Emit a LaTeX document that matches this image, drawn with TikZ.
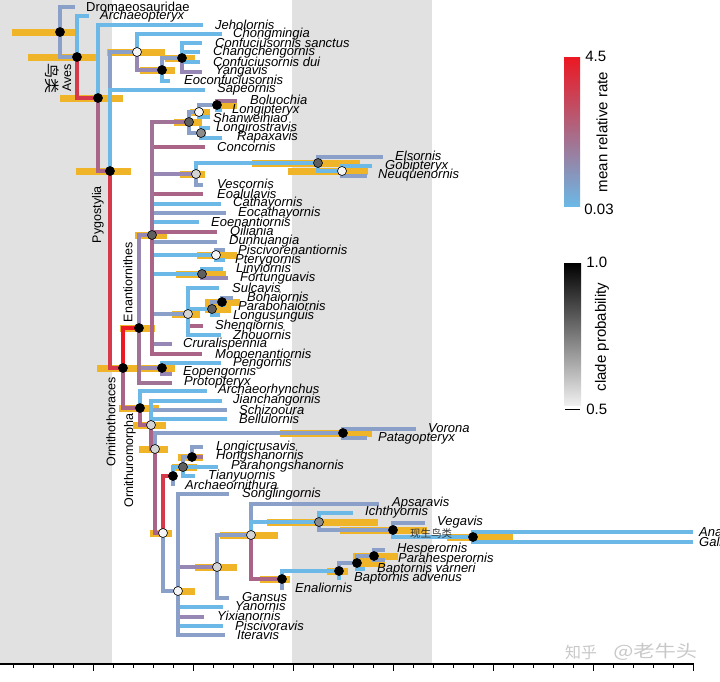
\documentclass[tikz,border=0pt]{standalone}
\usepackage{fontspec}
\setmainfont{Liberation Sans}
\newfontfamily\cjkFont{Noto Sans CJK SC}
\usepackage{tikz}
\usetikzlibrary{positioning}
\pgfdeclarelayer{bands}
\pgfdeclarelayer{bars}
\pgfdeclarelayer{branches}
\pgfsetlayers{bands,bars,branches,main}
\definecolor{bandColor}{RGB}{225,225,225}
\definecolor{barColor}{RGB}{240,180,40}
\definecolor{rateLow}{RGB}{108,184,230}
\definecolor{rateSlate}{RGB}{138,160,200}
\definecolor{ratePurple}{RGB}{150,135,180}
\definecolor{ratePlum}{RGB}{160,115,150}
\definecolor{rateMauve}{RGB}{170,100,135}
\definecolor{rateRed}{RGB}{214,58,74}
\definecolor{rateHot}{RGB}{236,24,34}
\definecolor{dotDark}{RGB}{95,95,95}
\definecolor{dotMid}{RGB}{140,140,140}
\definecolor{dotLight}{RGB}{212,212,212}
\definecolor{dotPale}{RGB}{245,245,245}
\definecolor{markGray}{RGB}{200,200,200}
\tikzstyle{branchLine} = [line width=4.5pt]
\tikzstyle{ageBarStyle} = [color=barColor, line width=7pt]
\tikzstyle{cladeDot} = [circle, draw=black, line width=.6pt, minimum size=9pt, inner sep=0pt]
\tikzstyle{taxonText} = [anchor=west, inner sep=0pt, font=\fontsize{13}{13}\selectfont\itshape]
\tikzstyle{cladeText} = [rotate=90, anchor=east, inner sep=0pt, font=\fontsize{12.5}{12.5}\selectfont]
\tikzstyle{legendText} = [inner sep=0pt, font=\fontsize{15}{15}\selectfont]
\tikzstyle{axisLine} = [line width=1.5pt]
\tikzstyle{axisTick} = [line width=1pt]
\newcommand{\cladeNode}[6]{
  \coordinate (#1) at (#2,#3);
  \begin{pgfonlayer}{bars}\draw[ageBarStyle] (#4,#3) -- (#5,#3);\end{pgfonlayer}
  \node[cladeDot, fill=#6] (#1Dot) at (#1) {};
}
\newcommand{\tipTaxon}[6]{
  \coordinate (#1) at (#2,#3);
  \node[taxonText] (#1Name) at (#4,#5) {#6};
}
\newcommand{\branch}[3]{\begin{pgfonlayer}{branches}\draw[branchLine, color=#3] (#1) |- (#2);\end{pgfonlayer}}

\begin{document}
\begin{tikzpicture}[x=1pt, y=-1pt]
  \useasboundingbox (0,0) rectangle (720,681);
  \begin{pgfonlayer}{bands}
    \fill[bandColor] (0,0) rectangle (112,664);
    \fill[bandColor] (292,0) rectangle (432,664);
    \draw[axisLine] (0,664) -- (694,664);
    \foreach \tick in {0,...,34} {\draw[axisTick] (693-\tick*20,664) -- ++(0,4);}
    \foreach \tick in {0,...,6} {\draw[axisTick] (693-\tick*100,664) -- ++(0,7);}
  \end{pgfonlayer}

  % clade nodes: name, x, y, age bar, clade probability
  \cladeNode{root}{60}{32}{12}{75}{black}
  \cladeNode{aves}{77}{57}{28}{100}{black}
  \cladeNode{jeholSplit}{98}{98}{60}{123}{black}
  \cladeNode{pygostylia}{110}{171}{76}{131}{black}
  \cladeNode{confNode}{137}{52}{107}{165}{dotPale}
  \cladeNode{confF}{162}{70}{140}{175}{black}
  \cladeNode{confG}{182}{58}{165}{195}{black}
  \cladeNode{ornithothoraces}{123}{368}{97}{175}{black}
  \cladeNode{enantiornithes}{139}{328}{120}{155}{black}
  \cladeNode{enantCore}{152}{235}{135}{167}{dotDark}
  \cladeNode{longiA}{189}{122}{174}{202}{dotDark}
  \cladeNode{longiB}{199}{112}{190}{210}{dotPale}
  \cladeNode{longiC}{217}{105}{213}{237}{black}
  \cladeNode{longiD}{201}{133}{197}{206}{dotMid}
  \cladeNode{gobiStem}{196}{174}{180}{205}{dotLight}
  \cladeNode{gobiA}{318}{163}{252}{360}{dotDark}
  \cladeNode{gobiB}{342}{171}{288}{368}{dotPale}
  \cladeNode{piscNode}{216}{255}{197}{237}{dotPale}
  \cladeNode{linyNode}{202}{274}{176}{226}{dotDark}
  \cladeNode{bohaiA}{188}{314}{172}{200}{dotLight}
  \cladeNode{bohaiB}{212}{309}{205}{231}{dotDark}
  \cladeNode{bohaiC}{222}{302}{205}{240}{black}
  \cladeNode{pengNode}{162}{368}{140}{175}{black}
  \cladeNode{ornithuromorpha}{140}{408}{119}{159}{black}
  \cladeNode{ornM2}{151}{425}{133}{166}{dotLight}
  \cladeNode{ornM3}{155}{449}{139}{168}{dotLight}
  \cladeNode{voronaNode}{343}{433}{280}{372}{black}
  \cladeNode{ornM4}{163}{533}{150}{172}{dotPale}
  \cladeNode{hongA}{173}{476}{173}{173}{black}
  \cladeNode{hongB}{183}{467}{172}{197}{dotDark}
  \cladeNode{hongC}{192}{457}{178}{203}{black}
  \cladeNode{songNode}{178}{591}{178}{195}{dotPale}
  \cladeNode{gansNode}{217}{567}{195}{237}{dotLight}
  \cladeNode{ornithurae}{251}{535}{220}{278}{dotLight}
  \cladeNode{ichthNode}{319}{522}{267}{378}{dotMid}
  \cladeNode{vegaNode}{393}{530}{340}{427}{black}
  \cladeNode{neornithes}{473}{537}{447}{513}{black}
  \cladeNode{hespA}{282}{579}{260}{290}{black}
  \cladeNode{hespB}{339}{571}{327}{348}{black}
  \cladeNode{hespC}{357}{563}{353}{385}{black}
  \cladeNode{hespD}{374}{556}{353}{398}{black}

  % tips: name, tip, label position, text
  \tipTaxon{dromaeo}{75}{7}{86}{7}{\upshape Dromaeosauridae}
  \tipTaxon{archaeopteryx}{89}{16}{100}{16}{Archaeopteryx}
  \tipTaxon{jeholornis}{203}{25}{215}{25}{Jeholornis}
  \tipTaxon{chongmingia}{222}{34}{233}{34}{Chongmingia}
  \tipTaxon{sanctus}{202}{43}{215}{43}{Confuciusornis sanctus}
  \tipTaxon{changcheng}{200}{52}{213}{52}{Changchengornis}
  \tipTaxon{dui}{200}{62}{213}{62}{Confuciusornis dui}
  \tipTaxon{yangavis}{202}{72}{215}{71}{Yangavis}
  \tipTaxon{eoconf}{170}{81}{184}{80}{Eoconfuciusornis}
  \tipTaxon{sapeornis}{205}{90}{217}{89}{Sapeornis}
  \tipTaxon{boluochia}{237}{101}{250}{100}{Boluochia}
  \tipTaxon{longipteryx}{222}{110}{232}{110}{Longipteryx}
  \tipTaxon{shanweiniao}{210}{117}{213}{118}{Shanweiniao}
  \tipTaxon{longirostravis}{210}{128}{216}{128}{Longirostravis}
  \tipTaxon{rapaxavis}{222}{138}{237}{137}{Rapaxavis}
  \tipTaxon{concornis}{205}{147}{217}{147}{Concornis}
  \tipTaxon{elsornis}{383}{157}{395}{156}{Elsornis}
  \tipTaxon{gobipteryx}{372}{166}{385}{166}{Gobipteryx}
  \tipTaxon{neuquenornis}{367}{176}{378}{175}{Neuquenornis}
  \tipTaxon{vescornis}{203}{185}{217}{184}{Vescornis}
  \tipTaxon{eoalulavis}{203}{194}{217}{194}{Eoalulavis}
  \tipTaxon{cathayornis}{221}{204}{233}{203}{Cathayornis}
  \tipTaxon{eocathayornis}{226}{213}{238}{213}{Eocathayornis}
  \tipTaxon{eoenantiornis}{199}{222}{211}{222}{Eoenantiornis}
  \tipTaxon{qiliania}{217}{232}{230}{232}{Qiliania}
  \tipTaxon{dunhuangia}{217}{242}{229}{241}{Dunhuangia}
  \tipTaxon{piscivorenantiornis}{225}{250}{238}{250}{Piscivorenantiornis}
  \tipTaxon{pterygornis}{225}{260}{235}{260}{Pterygornis}
  \tipTaxon{linyiornis}{223}{269}{236}{269}{Linyiornis}
  \tipTaxon{fortunguavis}{228}{278}{240}{278}{Fortunguavis}
  \tipTaxon{sulcavis}{219}{288}{232}{288}{Sulcavis}
  \tipTaxon{bohaiornis}{233}{298}{247}{297}{Bohaiornis}
  \tipTaxon{parabohaiornis}{225}{305}{238}{306}{Parabohaiornis}
  \tipTaxon{longusunguis}{220}{315}{233}{316}{Longusunguis}
  \tipTaxon{shenqiornis}{203}{326}{215}{326}{Shenqiornis}
  \tipTaxon{zhouornis}{221}{335}{233}{335}{Zhouornis}
  \tipTaxon{cruralispennia}{172}{344}{183}{344}{Cruralispennia}
  \tipTaxon{monoenantiornis}{202}{354}{215}{354}{Monoenantiornis}
  \tipTaxon{pengornis}{221}{363}{233}{363}{Pengornis}
  \tipTaxon{eopengornis}{172}{374}{183}{372}{Eopengornis}
  \tipTaxon{protopteryx}{172}{383}{184}{382}{Protopteryx}
  \tipTaxon{archaeorhynchus}{207}{391}{218}{390}{Archaeorhynchus}
  \tipTaxon{jianchangornis}{222}{401}{233}{400}{Jianchangornis}
  \tipTaxon{schizooura}{227}{410}{239}{410}{Schizooura}
  \tipTaxon{bellulornis}{227}{419}{239}{419}{Bellulornis}
  \tipTaxon{vorona}{416}{429}{428}{428}{Vorona}
  \tipTaxon{patagopteryx}{367}{438}{378}{438}{Patagopteryx}
  \tipTaxon{longicrusavis}{203}{447}{216}{447}{Longicrusavis}
  \tipTaxon{hongshanornis}{203}{457}{216}{456}{Hongshanornis}
  \tipTaxon{parahongshanornis}{218}{467}{231}{466}{Parahongshanornis}
  \tipTaxon{tianyuornis}{195}{476}{208}{476}{Tianyuornis}
  \tipTaxon{archaeornithura}{173}{486}{185}{485}{Archaeornithura}
  \tipTaxon{songlingornis}{229}{494}{242}{494}{Songlingornis}
  \tipTaxon{apsaravis}{379}{504}{392}{503}{Apsaravis}
  \tipTaxon{ichthyornis}{353}{513}{365}{512}{Ichthyornis}
  \tipTaxon{vegavis}{425}{523}{437}{522}{Vegavis}
  \tipTaxon{anas}{693}{532}{699}{532}{Anas}
  \tipTaxon{gallus}{693}{542}{699}{542}{Gallus}
  \tipTaxon{hesperornis}{385}{550}{397}{549}{Hesperornis}
  \tipTaxon{parahesperornis}{385}{560}{398}{559}{Parahesperornis}
  \tipTaxon{baptornisVarneri}{365}{569}{377}{569}{Baptornis varneri}
  \tipTaxon{baptornisAdvenus}{339}{580}{354}{578}{Baptornis advenus}
  \tipTaxon{enaliornis}{282}{590}{295}{588}{Enaliornis}
  \tipTaxon{gansus}{229}{598}{242}{597}{Gansus}
  \tipTaxon{yanornis}{223}{607}{235}{606}{Yanornis}
  \tipTaxon{yixianornis}{204}{617}{217}{616}{Yixianornis}
  \tipTaxon{piscivoravis}{223}{626}{235}{626}{Piscivoravis}
  \tipTaxon{iteravis}{225}{635}{237}{635}{Iteravis}

  % branches, coloured by rate
  \branch{root}{dromaeo}{rateSlate}
  \branch{root}{aves}{rateSlate}
  \branch{aves}{archaeopteryx}{rateLow}
  \branch{aves}{jeholSplit}{rateRed}
  \branch{jeholSplit}{jeholornis}{rateLow}
  \branch{jeholSplit}{pygostylia}{rateMauve}
  \branch{pygostylia}{confNode}{rateSlate}
  \branch{pygostylia}{sapeornis}{rateLow}
  \branch{pygostylia}{ornithothoraces}{rateRed}
  \branch{confNode}{chongmingia}{rateLow}
  \branch{confNode}{confF}{ratePurple}
  \branch{confF}{confG}{rateSlate}
  \branch{confF}{eoconf}{rateLow}
  \branch{confG}{sanctus}{rateLow}
  \branch{confG}{changcheng}{rateLow}
  \branch{confG}{dui}{rateLow}
  \branch{confG}{yangavis}{ratePurple}
  \branch{ornithothoraces}{enantiornithes}{rateHot}
  \branch{ornithothoraces}{ornithuromorpha}{rateMauve}
  % Enantiornithes
  \branch{enantiornithes}{enantCore}{ratePurple}
  \branch{enantiornithes}{pengNode}{ratePurple}
  \branch{enantiornithes}{protopteryx}{ratePlum}
  \branch{enantCore}{qiliania}{rateMauve}
  \branch{enantCore}{eoenantiornis}{rateLow}
  \branch{enantCore}{eocathayornis}{rateSlate}
  \branch{enantCore}{cathayornis}{rateLow}
  \branch{enantCore}{eoalulavis}{rateMauve}
  \branch{enantCore}{gobiStem}{ratePurple}
  \branch{enantCore}{concornis}{rateMauve}
  \branch{enantCore}{longiA}{ratePlum}
  \branch{enantCore}{dunhuangia}{rateSlate}
  \branch{enantCore}{piscNode}{rateLow}
  \branch{enantCore}{linyNode}{rateLow}
  \branch{enantCore}{bohaiA}{rateSlate}
  \branch{enantCore}{cruralispennia}{ratePurple}
  \branch{enantCore}{monoenantiornis}{rateMauve}
  \branch{longiA}{longiB}{rateSlate}
  \branch{longiA}{longiD}{rateSlate}
  \branch{longiB}{longiC}{rateSlate}
  \branch{longiB}{shanweiniao}{rateLow}
  \branch{longiC}{boluochia}{ratePlum}
  \branch{longiC}{longipteryx}{rateLow}
  \branch{longiD}{longirostravis}{rateLow}
  \branch{longiD}{rapaxavis}{rateLow}
  \branch{gobiStem}{gobiA}{rateLow}
  \branch{gobiStem}{vescornis}{rateSlate}
  \branch{gobiA}{elsornis}{rateSlate}
  \branch{gobiA}{gobiB}{rateLow}
  \branch{gobiB}{gobipteryx}{rateLow}
  \branch{gobiB}{neuquenornis}{rateSlate}
  \branch{piscNode}{piscivorenantiornis}{rateSlate}
  \branch{piscNode}{pterygornis}{rateLow}
  \branch{linyNode}{linyiornis}{rateLow}
  \branch{linyNode}{fortunguavis}{ratePurple}
  \branch{bohaiA}{sulcavis}{rateLow}
  \branch{bohaiA}{bohaiB}{rateLow}
  \branch{bohaiA}{shenqiornis}{rateMauve}
  \branch{bohaiA}{zhouornis}{rateLow}
  \branch{bohaiB}{bohaiC}{rateSlate}
  \branch{bohaiB}{longusunguis}{rateLow}
  \branch{bohaiC}{bohaiornis}{rateSlate}
  \branch{bohaiC}{parabohaiornis}{rateLow}
  \branch{pengNode}{pengornis}{rateLow}
  \branch{pengNode}{eopengornis}{ratePurple}
  % Ornithuromorpha
  \branch{ornithuromorpha}{archaeorhynchus}{rateLow}
  \branch{ornithuromorpha}{ornM2}{rateMauve}
  \branch{ornM2}{schizooura}{rateSlate}
  \branch{ornM2}{bellulornis}{rateLow}
  \branch{ornM2}{jianchangornis}{rateLow}
  \branch{ornM2}{ornM3}{rateMauve}
  \branch{ornM3}{voronaNode}{rateSlate}
  \branch{ornM3}{ornM4}{rateMauve}
  \branch{voronaNode}{vorona}{rateSlate}
  \branch{voronaNode}{patagopteryx}{rateSlate}
  \branch{ornM4}{hongA}{rateRed}
  \branch{ornM4}{songNode}{rateSlate}
  \branch{hongA}{hongB}{rateLow}
  \branch{hongA}{archaeornithura}{rateSlate}
  \branch{hongB}{hongC}{rateSlate}
  \branch{hongB}{parahongshanornis}{rateLow}
  \branch{hongB}{tianyuornis}{rateLow}
  \branch{hongC}{longicrusavis}{rateSlate}
  \branch{hongC}{hongshanornis}{ratePlum}
  \branch{songNode}{gansNode}{ratePurple}
  \branch{songNode}{songlingornis}{rateSlate}
  \branch{songNode}{yanornis}{rateLow}
  \branch{songNode}{yixianornis}{ratePurple}
  \branch{songNode}{piscivoravis}{rateLow}
  \branch{songNode}{iteravis}{rateSlate}
  \branch{gansNode}{ornithurae}{rateSlate}
  \branch{gansNode}{gansus}{rateSlate}
  \branch{ornithurae}{apsaravis}{rateSlate}
  \branch{ornithurae}{ichthNode}{rateLow}
  \branch{ornithurae}{hespA}{rateMauve}
  \branch{ichthNode}{ichthyornis}{rateLow}
  \branch{ichthNode}{vegaNode}{rateSlate}
  \branch{vegaNode}{vegavis}{rateSlate}
  \branch{vegaNode}{neornithes}{rateLow}
  \branch{neornithes}{anas}{rateLow}
  \branch{neornithes}{gallus}{rateLow}
  \branch{hespA}{enaliornis}{rateSlate}
  \branch{hespA}{hespB}{rateLow}
  \branch{hespB}{hespC}{rateSlate}
  \branch{hespB}{baptornisAdvenus}{rateLow}
  \branch{hespC}{hespD}{rateSlate}
  \branch{hespC}{baptornisVarneri}{rateLow}
  \branch{hespD}{hesperornis}{rateSlate}
  \branch{hespD}{parahesperornis}{rateSlate}

  % clade names
  \node[cladeText] (avesName) at (67,64) {Aves};
  \node[cladeText, rotate=180, anchor=west, font=\fontsize{15}{15}\selectfont\cjkFont] (avesCjk) at (52,63) {鸟类};
  \node[cladeText] (pygoName) at (98,186) {Pygostylia};
  \node[cladeText] (enantName) at (128,242) {Enantiornithes};
  \node[cladeText] (thoracesName) at (111,377) {Ornithothoraces};
  \node[cladeText] (uromorphaName) at (130,413) {Ornithuromorpha};
  \node[anchor=west, inner sep=0pt, text=black!80, font=\fontsize{10.5}{10.5}\selectfont\cjkFont] (crownCjk) at (410,533) {现生鸟类};

  % legends
  \node[minimum width=16pt, minimum height=149pt, inner sep=0pt, top color=rateHot, middle color=rateMauve!85!ratePurple, bottom color=rateLow] (rateBar) at (572,131.5) {};
  \node[legendText, right=5pt of rateBar.north east] (rateHigh) {4.5};
  \node[legendText, right=4pt of rateBar.south east, yshift=-3pt] (rateLowText) {0.03};
  \node[legendText, rotate=90] (rateTitle) at (602,132) {mean relative rate};
  \node[minimum width=17pt, minimum height=142pt, inner sep=0pt, top color=black, bottom color=white!94!black] (probBar) at (572.5,334) {};
  \node[legendText, right=5pt of probBar.north east] (probHigh) {1.0};
  \node[legendText, right=5pt of probBar.south east, yshift=-4pt] (probLow) {0.5};
  \draw[line width=.8pt] ([xshift=1pt, yshift=-4pt]probBar.south west) -- ([xshift=-1pt, yshift=-4pt]probBar.south east);
  \node[legendText, rotate=90] (probTitle) at (602,337) {clade probability};

  % watermark
  \node[anchor=west, inner sep=0pt, text=markGray, font=\fontsize{16}{16}\selectfont\cjkFont] (zhihuLogo) at (565,652) {知乎};
  \node[anchor=west, inner sep=0pt, text=markGray, xscale=1.25, font=\fontsize{17}{17}\selectfont\cjkFont] (zhihuUser) at (613,652) {@老牛头};
\end{tikzpicture}
\end{document}
